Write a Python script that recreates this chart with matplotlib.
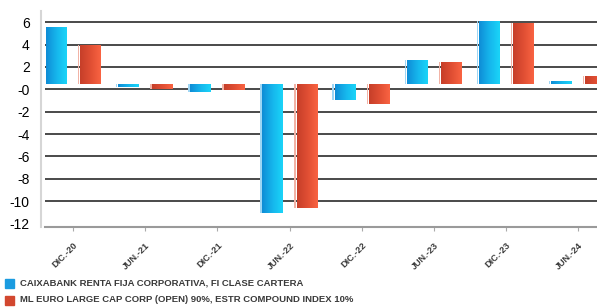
import numpy as np
import matplotlib
matplotlib.use("Agg")
import matplotlib.pyplot as plt
from matplotlib.colors import LinearSegmentedColormap
import matplotlib.patches as mpatches

# data
periods = ["DIC.-20", "JUN.-21", "DIC.-21", "JUN.-22", "DIC.-22", "JUN.-23", "DIC.-23", "JUN.-24"]
fund = [5.54, 0.23, -0.21, -11.07, -0.96, 2.62, 6.13, 0.77]
bench = [3.98, 0.0, -0.09, -10.63, -1.28, 2.41, 5.92, 1.16]
fund_name = "CAIXABANK RENTA FIJA CORPORATIVA, FI CLASE CARTERA"
bench_name = "ML EURO LARGE CAP CORP (OPEN) 90%, ESTR COMPOUND INDEX 10%"
yticks = [6, 4, 2, 0, -2, -4, -6, -8, -10, -12]
ylabels = ["6", "4", "2", "-0", "-2", "-4", "-6", "-8", "-10", "-12"]

BASE = 0.45   # bars are drawn from a baseline slightly above zero
BLUE = "#1a9be0"
RED = "#d2472f"
blue_cm = LinearSegmentedColormap.from_list("b", ["#0f8cd6", "#16b5ec", "#1ad4f8"])
red_cm = LinearSegmentedColormap.from_list("r", ["#c63f29", "#e04e33", "#f96342"])
TEXT = "#3a3a3a"

plt.rcParams["font.family"] = ["Liberation Sans", "DejaVu Sans"]

fig = plt.figure(figsize=(5.97, 3.07), dpi=100, facecolor="white")
ax = fig.add_axes([45 / 597, 80 / 307, 552 / 597, 216 / 307])

x = np.arange(len(periods))
off, w = 0.236, 0.28
grad = np.linspace(0, 1, 64).reshape(1, -1)

for vals, sign, cm, light in [(fund, -1, blue_cm, "#9fd6f4"), (bench, 1, red_cm, "#f2b3a6")]:
    xs = x + sign * off
    heights = [v - BASE for v in vals]
    bars = ax.bar(xs, heights, w, bottom=BASE, color="none", edgecolor="none", zorder=3)
    for b in bars:
        x0, y0 = b.get_x(), b.get_y()
        bw, bh = b.get_width(), b.get_height()
        im = ax.imshow(grad, extent=[x0, x0 + bw, y0, y0 + bh], aspect="auto",
                       cmap=cm, zorder=3, interpolation="bilinear")
        im.set_clip_path(b)
        # thin light strip on the left edge
        ax.bar(x0 - 0.03, bh, 0.02, bottom=y0, align="edge", color=light,
               edgecolor="none", zorder=3)

for v in range(-10, 7, 2):
    ax.axhline(v, color="#3c3c3c", lw=1.3, zorder=1)

ax.set_xlim(-0.39, 7.26)
ax.set_ylim(-12.3, 7.0)
ax.set_yticks(yticks)
ax.set_yticklabels(ylabels, fontsize=8, color=TEXT)
ax.tick_params(axis="y", length=0, pad=8)
ax.set_xticks(x)
ax.set_xticklabels(periods, rotation=45, ha="right", rotation_mode="anchor",
                   fontsize=6.6, fontweight="bold", color=TEXT)
ax.tick_params(axis="x", length=3, color="#aaaaaa", pad=7)

for s in ["top", "right"]:
    ax.spines[s].set_visible(False)
ax.spines["left"].set_position(("outward", 3))
ax.spines["left"].set_color("#d6d6d6")
ax.spines["left"].set_linewidth(1.5)
ax.spines["bottom"].set_color("#9a9a9a")
ax.spines["bottom"].set_linewidth(1.5)

# legend below
for i, (name, col) in enumerate([(fund_name, BLUE), (bench_name, RED)]):
    yy = (307 - 283 - i * 17) / 307
    fig.patches.append(mpatches.Rectangle((5 / 597, yy - 4.5 / 307), 9 / 597, 9 / 307,
                                          transform=fig.transFigure, color=col))
    fig.text(20 / 597, yy, name, fontsize=6.8, fontweight="bold", color=TEXT, va="center")

fig.savefig("out.png", dpi=100, facecolor="white")
